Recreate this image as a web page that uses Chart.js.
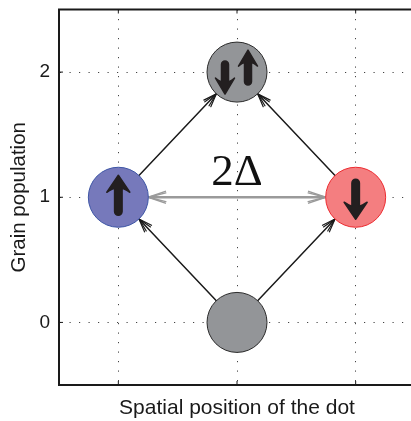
<!DOCTYPE html>
<html><head><meta charset="utf-8">
<script src="https://cdn.jsdelivr.net/npm/chart.js@4"></script>
<style>html,body{margin:0;padding:0;overflow:hidden;background:#fff}</style>
</head><body>
<canvas id="c" width="418" height="421" style="width:418px;height:421px;display:block"></canvas>
<script>
// ---- data ----
const stateNames = ['empty', 'spin up', 'spin down', 'doubly occupied'];
const positions = [0, -1, 1, 0];
const populations = [0, 1, 1, 2];
const fillColors = ['#939598', '#7679bb', '#f47e80', '#939598'];
const edgeColors = ['#2b2b2b', '#3d55a5', '#ec2a2f', '#2b2b2b'];
const spins = [[], ['up'], ['down'], ['down', 'up']];
const transFrom = [0, 0, 1, 2];
const transTo = [1, 2, 3, 3];
const gapFrom = 1, gapTo = 2;
const gapLabel = '2Δ';
const xTicks = [-1, 0, 1];
const yTicks = [0, 1, 2];
const xRange = [-1.5, 1.5];
const yRange = [-0.5, 2.5];
const xTitle = 'Spatial position of the dot';
const yTitle = 'Grain population';

const R = 30;

function vee(ctx, x, y, ux, uy, len, angles) {
  for (const a of angles) for (const s of [1, -1]) {
    const c = Math.cos(a * s), sn = Math.sin(a * s);
    const bx = -(ux * c - uy * sn), by = -(ux * sn + uy * c);
    ctx.beginPath(); ctx.moveTo(x, y); ctx.lineTo(x + bx * len, y + by * len); ctx.stroke();
  }
}
function spinArrow(ctx, cx, cy, dir, L, hw, hl, sw) {
  ctx.save(); ctx.translate(cx, cy); if (dir > 0) ctx.scale(1, -1);
  const t = -L / 2;
  ctx.beginPath();
  ctx.moveTo(0, t);
  ctx.lineTo(hw / 2, t + hl);
  ctx.quadraticCurveTo(sw / 2 + 1, t + hl * 0.75, sw / 2, t + hl * 0.8);
  ctx.lineTo(sw / 2, L / 2 - sw / 2);
  ctx.arc(0, L / 2 - sw / 2, sw / 2, 0, Math.PI);
  ctx.lineTo(-sw / 2, t + hl * 0.8);
  ctx.quadraticCurveTo(-sw / 2 - 1, t + hl * 0.75, -hw / 2, t + hl);
  ctx.closePath();
  ctx.fillStyle = '#231f20'; ctx.fill();
  ctx.lineJoin = 'round'; ctx.lineWidth = 1.5; ctx.strokeStyle = '#231f20'; ctx.stroke();
  ctx.restore();
}
const deg = Math.PI / 180;

const diagram = {
  id: 'diagram',
  beforeDatasetsDraw(chart) {
    const ctx = chart.ctx;
    const pts = chart.getDatasetMeta(0).data;
    ctx.save();
    // transitions
    ctx.strokeStyle = '#1a1a1a'; ctx.lineWidth = 1.5; ctx.lineCap = 'round';
    for (let i = 0; i < transFrom.length; i++) {
      const a = pts[transFrom[i]], b = pts[transTo[i]];
      const dx = b.x - a.x, dy = b.y - a.y, d = Math.hypot(dx, dy);
      const ux = dx / d, uy = dy / d;
      const sx = a.x + ux * R, sy = a.y + uy * R, ex = b.x - ux * R, ey = b.y - uy * R;
      ctx.beginPath(); ctx.moveTo(sx, sy); ctx.lineTo(ex, ey); ctx.stroke();
      ctx.lineWidth = 1.2;
      vee(ctx, ex, ey, ux, uy, 14, [12 * deg, 20 * deg]);
      ctx.lineWidth = 1.5;
    }
    // gap arrow
    const a = pts[gapFrom], b = pts[gapTo];
    const sx = a.x + R, ex = b.x - R, y = a.y;
    ctx.strokeStyle = '#9a9a9a'; ctx.lineWidth = 2.5;
    ctx.beginPath(); ctx.moveTo(sx + 2, y); ctx.lineTo(ex - 2, y); ctx.stroke();
    ctx.lineWidth = 1.5;
    vee(ctx, ex, y, 1, 0, 18, [14 * deg, 19 * deg]);
    vee(ctx, sx, y, -1, 0, 18, [14 * deg, 19 * deg]);
    // label
    ctx.fillStyle = '#111';
    ctx.font = '45px "Liberation Serif"';
    ctx.textAlign = 'center'; ctx.textBaseline = 'alphabetic';
    ctx.fillText(gapLabel, (a.x + b.x) / 2, y - 12);
    ctx.restore();
  },
  afterDatasetsDraw(chart) {
    const ctx = chart.ctx;
    const pts = chart.getDatasetMeta(0).data;
    for (let i = 0; i < pts.length; i++) {
      const p = pts[i], s = spins[i];
      if (s.length === 1) {
        const dir = s[0] === 'up' ? -1 : 1;
        spinArrow(ctx, p.x, p.y + (dir < 0 ? -2 : 2), dir, 40, 23, 17, 7.5);
      } else if (s.length === 2) {
        spinArrow(ctx, p.x - 12, p.y + 5.5, 1, 33, 19, 16, 7);
        spinArrow(ctx, p.x + 11, p.y - 4.5, -1, 35, 19, 16, 7);
      }
    }
  },
  afterDraw(chart) {
    const ctx = chart.ctx, ca = chart.chartArea;
    const xs = chart.scales.x, ys = chart.scales.y;
    ctx.save();
    ctx.strokeStyle = '#1a1a1a';
    ctx.lineWidth = 2;
    ctx.beginPath(); ctx.moveTo(ca.left - 1, ca.top); ctx.lineTo(ca.right + 5, ca.top); ctx.stroke();
    ctx.lineWidth = 1;
    for (const v of xTicks) {
      const x = xs.getPixelForValue(v);
      ctx.beginPath(); ctx.moveTo(x, ca.bottom); ctx.lineTo(x, ca.bottom - 4); ctx.stroke();
      ctx.beginPath(); ctx.moveTo(x, ca.top); ctx.lineTo(x, ca.top + 4); ctx.stroke();
    }
    for (const v of yTicks) {
      const y = ys.getPixelForValue(v);
      ctx.beginPath(); ctx.moveTo(ca.left, y); ctx.lineTo(ca.left + 4, y); ctx.stroke();
    }
    ctx.restore();
  }
};

function noPad(s) { s.paddingTop = 0; s.paddingBottom = 0; s.paddingLeft = 0; s.paddingRight = 0; }

new Chart(document.getElementById('c'), {
  type: 'scatter',
  data: {
    labels: stateNames,
    datasets: [{
      data: positions.map((x, i) => ({ x: x, y: populations[i] })),
      pointRadius: R, pointHoverRadius: R,
      pointBackgroundColor: fillColors,
      pointBorderColor: edgeColors,
      pointBorderWidth: 1
    }]
  },
  options: {
    responsive: false, animation: false,
    events: [],
    layout: { autoPadding: false, padding: { top: 9.5, right: 3, left: 0, bottom: 0 } },
    plugins: { legend: { display: false }, tooltip: { enabled: false } },
    scales: {
      x: {
        type: 'linear', min: xRange[0], max: xRange[1],
        afterBuildTicks: s => { s.ticks = xTicks.map(v => ({ value: v })); },
        afterFit: s => { s.height = 36; noPad(s); },
        ticks: { display: false },
        grid: { color: '#444', lineWidth: 1, drawTicks: false },
        border: { display: true, color: '#1a1a1a', width: 2, dash: [1.2, 8.3] },
        title: { display: true, text: xTitle, color: '#1a1a1a', font: { family: '"Liberation Sans", Arial', size: 21 }, padding: { top: 0, bottom: 0 } }
      },
      y: {
        type: 'linear', min: yRange[0], max: yRange[1],
        afterBuildTicks: s => { s.ticks = yTicks.map(v => ({ value: v })); },
        afterFit: s => { s.width = 59; noPad(s); },
        ticks: { color: '#1a1a1a', font: { family: '"Liberation Sans", Arial', size: 19 }, padding: 9 },
        grid: { color: '#444', lineWidth: 1, drawTicks: false },
        border: { display: true, color: '#1a1a1a', width: 2, dash: [1.2, 8.3] },
        title: { display: true, text: yTitle, color: '#1a1a1a', font: { family: '"Liberation Sans", Arial', size: 20.5 }, padding: { top: 7, bottom: 0 } }
      }
    }
  },
  plugins: [diagram]
});
</script>
</body></html>
